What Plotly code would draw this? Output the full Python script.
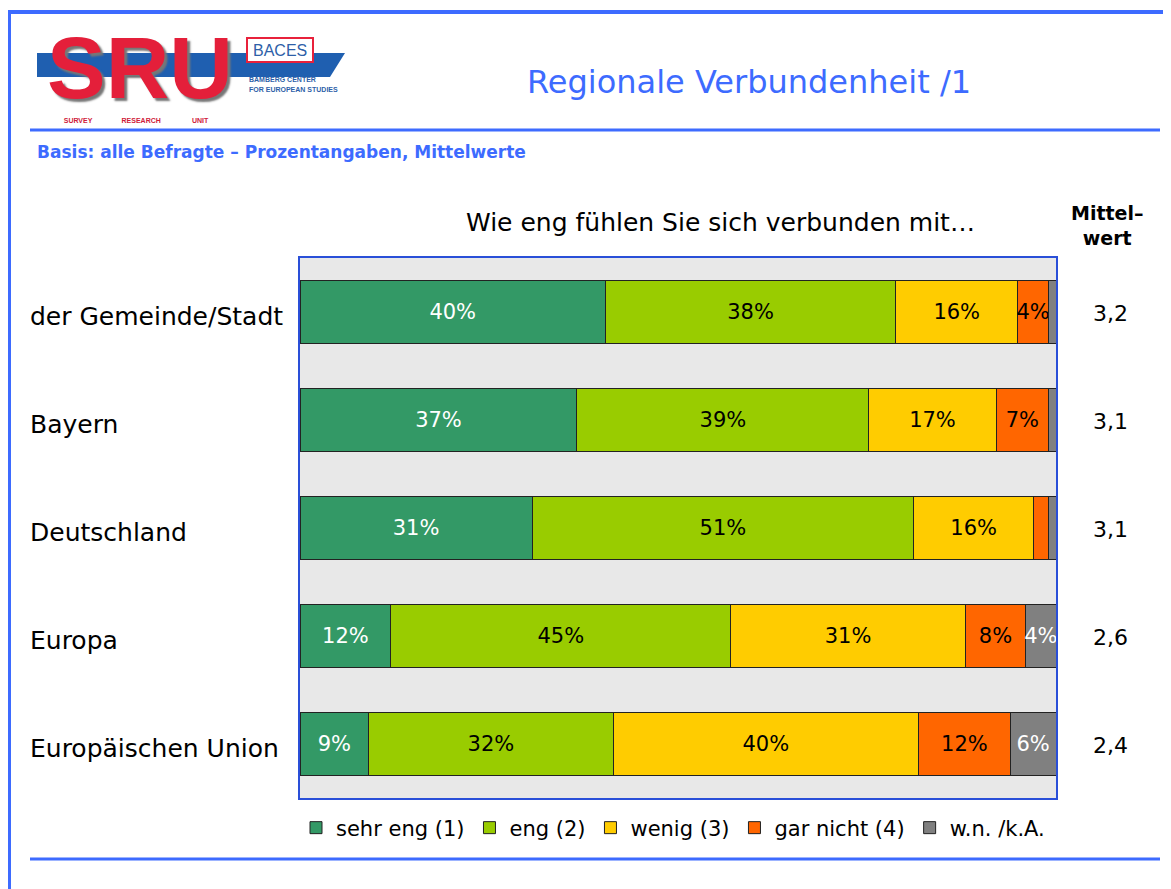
import plotly.graph_objects as go

# ---------------- data ----------------
categories = ["der Gemeinde/Stadt", "Bayern", "Deutschland", "Europa", "Europäischen Union"]
series_names = ["sehr eng (1)", "eng (2)", "wenig (3)", "gar nicht (4)", "w.n. /k.A."]
sehr_eng = [40, 37, 31, 12, 9]
eng = [38, 39, 51, 45, 32]
wenig = [16, 17, 16, 31, 40]
gar_nicht = [4, 7, 2, 8, 12]
wn_ka = [1, 1, 1, 4, 6]
mittelwerte = ["3,2", "3,1", "3,1", "2,6", "2,4"]

colors = ["#339966", "#99cc00", "#ffcc00", "#ff6600", "#808080"]
text_colors = ["white", "black", "black", "black", "white"]

# page is offset by the 8px body margin of the browser
OFF = 8
W, H = 1171 - OFF, 889 - OFF
L, R, T, B = 300, 1056, 258, 798          # plot area in reference pixels
FONT = "DejaVu Sans"
BLUE = "#3d6bff"


def px(x):
    return (x - L) / (R - L)


def py(y):
    return (B - y) / (B - T)


fig = go.Figure()
for name, vals, col, tcol in zip(series_names, [sehr_eng, eng, wenig, gar_nicht, wn_ka], colors, text_colors):
    fig.add_trace(go.Bar(
        y=categories, x=vals, name=name, orientation="h",
        marker=dict(color=col, line=dict(color="#222222", width=1)),
        text=[f"{v}%" if v >= 4 else "" for v in vals],
        textposition="inside", insidetextanchor="middle", constraintext="none", textangle=0,
        textfont=dict(family=FONT, size=21, color=tcol),
        hoverinfo="skip",
    ))

annotations = []
# row labels
for c in categories:
    annotations.append(dict(xref="paper", yref="y", x=px(28), y=c, yshift=-4, text=c, showarrow=False,
                            xanchor="left", font=dict(family=FONT, size=25, color="black")))
# mean values
for c, m in zip(categories, mittelwerte):
    annotations.append(dict(xref="paper", yref="y", x=px(1110), y=c, yshift=-1, text=m, showarrow=False,
                            xanchor="center", font=dict(family=FONT, size=22, color="black")))

NB = "\u00a0"
logo_text = ('<span style="font-size:88px;color:#e41f3a;text-shadow:3px 3px 2px #777777"><b>SRU</b></span><br>'
             '<span style="font-size:7px"><b>SURVEY' + NB * 15 + 'RESEARCH' + NB * 16 + 'UNIT' + NB * 4 + '</b></span>')

annotations += [
    dict(xref="paper", yref="paper", x=px(1107), y=py(226), text="<b>Mittel–</b><br><b>wert</b>", showarrow=False,
         xanchor="center", yanchor="middle", font=dict(family=FONT, size=19, color="black")),
    dict(xref="paper", yref="paper", x=px(720), y=py(222), text="Wie eng fühlen Sie sich verbunden mit…",
         showarrow=False, xanchor="center", yanchor="middle", font=dict(family=FONT, size=25, color="black")),
    dict(xref="paper", yref="paper", x=px(749), y=py(82), text="Regionale Verbundenheit /1",
         showarrow=False, xanchor="center", yanchor="middle", font=dict(family=FONT, size=32, color=BLUE)),
    dict(xref="paper", yref="paper", x=px(35), y=py(152), text="<b>Basis: alle Befragte – Prozentangaben, Mittelwerte</b>",
         showarrow=False, xanchor="left", yanchor="middle", font=dict(family=FONT, size=17, color=BLUE)),
    # logo texts
    dict(xref="paper", yref="paper", x=px(140), y=py(17.4), text=logo_text, showarrow=False,
         xanchor="center", yanchor="top", borderpad=0, align="center",
         font=dict(family="Liberation Sans", size=19.5, color="#d0203a")),
    dict(xref="paper", yref="paper", x=px(280), y=py(50), text="BACES", showarrow=False,
         xanchor="center", yanchor="middle", font=dict(family="Liberation Sans", size=16, color="#2e5fa8")),
    dict(xref="paper", yref="paper", x=px(247), y=py(80), text="<b>BAMBERG CENTER</b>", showarrow=False,
         xanchor="left", yanchor="middle", font=dict(family="Liberation Sans", size=7, color="#2e5fa8")),
    dict(xref="paper", yref="paper", x=px(247), y=py(89), text="<b>FOR EUROPEAN STUDIES</b>", showarrow=False,
         xanchor="left", yanchor="middle", font=dict(family="Liberation Sans", size=7, color="#2e5fa8")),
]

shapes = [
    # page frame
    dict(type="line", xref="paper", yref="paper", x0=px(8), x1=px(1171), y0=py(12), y1=py(12), line=dict(color=BLUE, width=4), layer="below"),
    dict(type="line", xref="paper", yref="paper", x0=px(9.5), x1=px(9.5), y0=py(10), y1=py(889), line=dict(color=BLUE, width=3), layer="below"),
    dict(type="line", xref="paper", yref="paper", x0=px(30), x1=px(1160), y0=py(130), y1=py(130), line=dict(color=BLUE, width=3), layer="below"),
    dict(type="line", xref="paper", yref="paper", x0=px(30), x1=px(1160), y0=py(859), y1=py(859), line=dict(color=BLUE, width=3), layer="below"),
    # logo band
    dict(type="path", xref="paper", yref="paper",
         path=f"M{px(37)},{py(53)} L{px(345)},{py(53)} L{px(330)},{py(77)} L{px(37)},{py(77)} Z",
         fillcolor="#1f5fb0", line=dict(width=0), layer="below"),
    dict(type="rect", xref="paper", yref="paper", x0=px(247), x1=px(313), y0=py(38), y1=py(62),
         fillcolor="white", line=dict(color="#e8213b", width=2), layer="below"),
]

fig.update_layout(
    width=W, height=H,
    margin=dict(l=L - OFF, r=W - (R - OFF), t=T - OFF, b=H - (B - OFF), pad=0),
    barmode="stack", barnorm="percent", bargap=0.415,
    paper_bgcolor="white", plot_bgcolor="#e8e8e8",
    font=dict(family=FONT, color="black"),
    showlegend=True,
    legend=dict(orientation="h", x=px(673), xanchor="center", y=py(828), yanchor="middle",
                font=dict(family=FONT, size=21, color="black"), itemwidth=30, traceorder="normal",
                bgcolor="rgba(0,0,0,0)"),
    xaxis=dict(range=[0, 100], showgrid=False, zeroline=False, showticklabels=False, ticks="",
               showline=True, mirror=True, linecolor="#2a4fd8", linewidth=1.5, fixedrange=True),
    yaxis=dict(autorange="reversed", showgrid=False, zeroline=False, showticklabels=False, ticks="",
               showline=True, mirror=True, linecolor="#2a4fd8", linewidth=1.5, fixedrange=True),
    annotations=annotations, shapes=shapes,
)

fig.write_html("out.html")
